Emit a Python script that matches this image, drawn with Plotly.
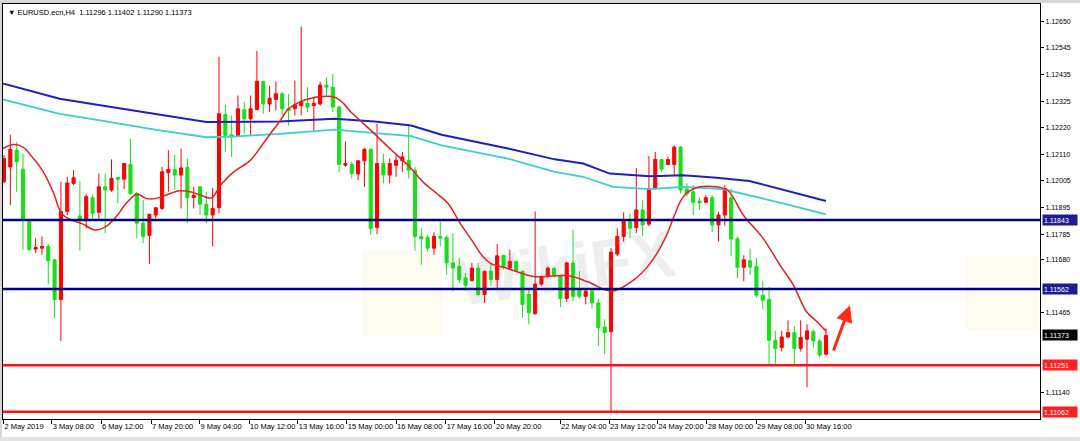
import plotly.graph_objects as go

# EURUSD H4 candles (bar 0 = 2 May 00:00)
bar_open = [1.11999, 1.12059, 1.12127, 1.12050, 1.11836, 1.11724, 1.11728, 1.11735, 1.11681, 1.11519,
            1.11877, 1.11992, 1.11859, 1.11847, 1.11934, 1.11874, 1.11978, 1.11965, 1.12016, 1.12009,
            1.12070, 1.11951, 1.11830, 1.11780, 1.11863, 1.11890, 1.12036, 1.12049, 1.12026, 1.12057,
            1.11934, 1.11978, 1.11907, 1.11863, 1.11893, 1.12273, 1.12190, 1.12185, 1.12292, 1.12255,
            1.12293, 1.12407, 1.12316, 1.12334, 1.12357, 1.12296, 1.12296, 1.12309, 1.12319, 1.12309,
            1.12316, 1.12393, 1.12384, 1.12303, 1.12066, 1.12070, 1.12030, 1.12084, 1.12131, 1.11812,
            1.12073, 1.12026, 1.12066, 1.12084, 1.12086, 1.12046, 1.11776, 1.11772, 1.11728, 1.11776,
            1.11772, 1.11668, 1.11654, 1.11607, 1.11596, 1.11647, 1.11539, 1.11634, 1.11600, 1.11699,
            1.11647, 1.11674, 1.11634, 1.11539, 1.11461, 1.11582, 1.11613, 1.11645, 1.11613, 1.11523,
            1.11668, 1.11559, 1.11532, 1.11553, 1.11505, 1.11407, 1.11388, 1.11704, 1.11776, 1.11836,
            1.11812, 1.11884, 1.11826, 1.11971, 1.12089, 1.12069, 1.12069, 1.12140, 1.11969, 1.11958,
            1.11920, 1.11915, 1.11934, 1.11823, 1.11863, 1.11934, 1.11766, 1.11650, 1.11677, 1.11654,
            1.11536, 1.11519, 1.11353, 1.11323, 1.11366, 1.11384, 1.11320, 1.11357, 1.11388, 1.11350,
            1.11296]
bar_high = [1.12107, 1.12190, 1.12161, 1.12113, 1.11843, 1.11769, 1.11776, 1.11745, 1.11684, 1.11999,
            1.12019, 1.12046, 1.12001, 1.11947, 1.11947, 1.12032, 1.12032, 1.12090, 1.12019, 1.12076,
            1.12174, 1.11958, 1.11924, 1.11869, 1.11896, 1.12059, 1.12127, 1.12109, 1.12134, 1.12093,
            1.11978, 1.11981, 1.11958, 1.11974, 1.12508, 1.12312, 1.12269, 1.12350, 1.12325, 1.12350,
            1.12532, 1.12411, 1.12390, 1.12407, 1.12366, 1.12357, 1.12411, 1.12631, 1.12384, 1.12343,
            1.12407, 1.12424, 1.12438, 1.12309, 1.12163, 1.12080, 1.12086, 1.12136, 1.12134, 1.12235,
            1.12113, 1.12093, 1.12107, 1.12120, 1.12231, 1.12059, 1.11809, 1.11782, 1.11793, 1.11836,
            1.11782, 1.11789, 1.11688, 1.11627, 1.11668, 1.11668, 1.11636, 1.11668, 1.11745, 1.11701,
            1.11722, 1.11677, 1.11636, 1.11566, 1.11877, 1.11616, 1.11654, 1.11654, 1.11620, 1.11674,
            1.11803, 1.11634, 1.11559, 1.11559, 1.11519, 1.11438, 1.11728, 1.11809, 1.11874, 1.11870,
            1.12055, 1.11924, 1.12104, 1.12120, 1.12093, 1.12100, 1.12147, 1.12143, 1.11992, 1.11985,
            1.11934, 1.11944, 1.11944, 1.11877, 1.11985, 1.11971, 1.11776, 1.11699, 1.11726, 1.11688,
            1.11593, 1.11569, 1.11391, 1.11391, 1.11434, 1.11411, 1.11434, 1.11418, 1.11397, 1.11357,
            1.11402]
bar_low = [1.11992, 1.11904, 1.11958, 1.11722, 1.11718, 1.11708, 1.11701, 1.11582, 1.11442, 1.11350,
           1.11863, 1.11985, 1.11718, 1.11809, 1.11843, 1.11843, 1.11789, 1.11958, 1.11911, 1.11969,
           1.11944, 1.11769, 1.11749, 1.11663, 1.11850, 1.11884, 1.11958, 1.11965, 1.11890, 1.11830,
           1.11890, 1.11863, 1.11830, 1.11735, 1.11870, 1.12120, 1.12100, 1.12181, 1.12194, 1.12188,
           1.12290, 1.12276, 1.12282, 1.12289, 1.12269, 1.12228, 1.12269, 1.12269, 1.12282, 1.12201,
           1.12309, 1.12350, 1.12282, 1.12039, 1.12059, 1.12012, 1.12005, 1.11978, 1.11782, 1.11785,
           1.11992, 1.11992, 1.12019, 1.12039, 1.12012, 1.11718, 1.11661, 1.11715, 1.11701, 1.11735,
           1.11620, 1.11553, 1.11586, 1.11553, 1.11593, 1.11532, 1.11505, 1.11573, 1.11566, 1.11641,
           1.11641, 1.11631, 1.11445, 1.11418, 1.11458, 1.11573, 1.11607, 1.11607, 1.11488, 1.11509,
           1.11512, 1.11523, 1.11499, 1.11482, 1.11330, 1.11296, 1.11066, 1.11695, 1.11755, 1.11769,
           1.11789, 1.11776, 1.11816, 1.11965, 1.12039, 1.12066, 1.12026, 1.11951, 1.11938, 1.11863,
           1.11884, 1.11911, 1.11793, 1.11755, 1.11820, 1.11695, 1.11607, 1.11593, 1.11620, 1.11528,
           1.11478, 1.11253, 1.11258, 1.11307, 1.11361, 1.11255, 1.11307, 1.11161, 1.11323, 1.11282,
           1.11290]
bar_close = [1.12093, 1.12130, 1.12080, 1.11847, 1.11722, 1.11731, 1.11735, 1.11677, 1.11519, 1.11877,
             1.11994, 1.12015, 1.11847, 1.11938, 1.11870, 1.11978, 1.11965, 1.12012, 1.12009, 1.12073,
             1.11951, 1.11830, 1.11776, 1.11866, 1.11893, 1.12039, 1.12049, 1.12026, 1.12055, 1.11934,
             1.11944, 1.11907, 1.11863, 1.11890, 1.12276, 1.12188, 1.12181, 1.12296, 1.12255, 1.12296,
             1.12408, 1.12316, 1.12339, 1.12357, 1.12296, 1.12289, 1.12312, 1.12325, 1.12303, 1.12319,
             1.12393, 1.12384, 1.12303, 1.12069, 1.12073, 1.12032, 1.12084, 1.12131, 1.11809, 1.12073,
             1.12026, 1.12073, 1.12086, 1.12100, 1.12046, 1.11776, 1.11766, 1.11728, 1.11776, 1.11769,
             1.11668, 1.11647, 1.11600, 1.11577, 1.11647, 1.11539, 1.11634, 1.11600, 1.11697, 1.11654,
             1.11674, 1.11634, 1.11499, 1.11465, 1.11582, 1.11613, 1.11647, 1.11618, 1.11523, 1.11668,
             1.11532, 1.11532, 1.11553, 1.11505, 1.11404, 1.11384, 1.11712, 1.11776, 1.11839, 1.11809,
             1.11884, 1.11823, 1.11971, 1.12090, 1.12050, 1.12089, 1.12140, 1.11965, 1.11951, 1.11915,
             1.11913, 1.11934, 1.11823, 1.11863, 1.11971, 1.11765, 1.11650, 1.11681, 1.11651, 1.11536,
             1.11516, 1.11353, 1.11320, 1.11366, 1.11384, 1.11320, 1.11364, 1.11391, 1.11350, 1.11293,
             1.11373]
bar_index = list(range(len(bar_open)))

# moving averages, sampled along the drawn lines (bar position, price)
ma_fast_x = [-0.2, 1.5, 3.0, 4.6, 6.2, 7.8, 9.1, 10.4, 12.5, 14.4, 16.2, 17.8, 19.4, 21.0, 22.6, 24.1,
             25.7, 27.8, 29.6, 31.0, 32.8, 34.4, 36.3, 38.9, 40.4, 42.0, 43.6, 44.9, 46.5, 48.1, 50.2,
             52.3, 53.6, 54.9, 56.5, 58.6, 61.3, 63.9, 66.5, 68.5, 70.2, 72.3, 74.0, 75.5, 77.0, 79.0,
             82.7, 84.0, 89.5, 92.4, 96.1, 99.4, 102.1, 104.6, 106.0, 107.5, 109.6, 112.7, 114.5, 117.0,
             120.0, 122.7, 124.8, 126.9, 128.5, 130.0]
ma_fast_y = [1.12134, 1.12150, 1.12140, 1.12095, 1.12040, 1.11955, 1.11870, 1.11846, 1.11826, 1.11802,
             1.11818, 1.11858, 1.11913, 1.11948, 1.11930, 1.11931, 1.11945, 1.11962, 1.11957, 1.11945,
             1.11933, 1.11990, 1.12038, 1.12085, 1.12133, 1.12190, 1.12244, 1.12293, 1.12320, 1.12336,
             1.12346, 1.12343, 1.12320, 1.12282, 1.12244, 1.12194, 1.12127, 1.12066, 1.11992, 1.11950,
             1.11911, 1.11823, 1.11760, 1.11701, 1.11665, 1.11650, 1.11619, 1.11612, 1.11615, 1.11590,
             1.11553, 1.11595, 1.11663, 1.11770, 1.11860, 1.11940, 1.11975, 1.11978, 1.11963, 1.11860,
             1.11770, 1.11660, 1.11580, 1.11470, 1.11430, 1.11390]
ma_slow_x = [-0.2, 8.8, 15.2, 24.1, 32.0, 43.6, 52.3, 58.6, 64.4, 69.2, 79.7, 87.1, 91.6, 95.8,
             102.1, 107.4, 112.7, 117.9, 123.2, 130.0]
ma_slow_y = [1.12399, 1.12337, 1.12310, 1.12273, 1.12242, 1.12244, 1.12255, 1.12244, 1.12228, 1.12190,
             1.12134, 1.12090, 1.12073, 1.12032, 1.12021, 1.12025, 1.12015, 1.12002, 1.11965, 1.11920]
ma_mid_x = [-0.2, 8.8, 15.2, 24.1, 32.0, 36.2, 43.6, 52.3, 64.4, 69.2, 79.7, 87.1, 91.6, 96.3,
            102.1, 107.4, 113.7, 117.9, 123.2, 130.0]
ma_mid_y = [1.12334, 1.12275, 1.12249, 1.12210, 1.12180, 1.12183, 1.12194, 1.12211, 1.12185, 1.12147,
            1.12093, 1.12039, 1.12019, 1.11978, 1.11969, 1.11978, 1.11969, 1.11944, 1.11911, 1.11866]

# horizontal support / resistance levels
level_prices = [1.11843, 1.11562, 1.11251, 1.11062]
level_colors = ['#000080', '#000080', '#ff1010', '#ff1010']
level_box_colors = ['#1c1c96', '#1c1c96', '#ff2020', '#ff2020']
last_price = 1.11373

price_ticks = [1.12650, 1.12545, 1.12435, 1.12325, 1.12220, 1.12110, 1.12005, 1.11895, 1.11785,
               1.11680, 1.11465, 1.11140, 1.11030]
time_labels = ['2 May 2019', '3 May 08:00', '6 May 12:00', '7 May 20:00', '9 May 04:00',
               '10 May 12:00', '13 May 16:00', '15 May 00:00', '16 May 08:00', '17 May 16:00',
               '20 May 20:00', '22 May 04:00', '23 May 12:00', '24 May 20:00', '28 May 00:00',
               '29 May 08:00', '30 May 16:00']
time_label_pos = [-0.1, 7.55, 15.35, 23.25, 30.9, 38.75, 46.45, 54.2, 62.0, 69.85, 77.65,
                  87.95, 95.7, 103.3, 111.15, 118.95, 126.7]

title_text = 'EURUSD.ecn,H4  1.11296 1.11402 1.11290 1.11373'

FONT = 'Liberation Sans'
W, H = 1080, 441
ML, MR, MT, MB = 3, 40, 4, 22
PW, PH = W - ML - MR, H - MT - MB


def px_x(px):
    return (px - ML) / PW


def px_y(py):
    return (H - MB - py) / PH


fig = go.Figure()

fig.add_trace(go.Candlestick(
    x=bar_index, open=bar_open, high=bar_high, low=bar_low, close=bar_close,
    increasing=dict(line=dict(color='#ff0000', width=1), fillcolor='#ff0000'),
    decreasing=dict(line=dict(color='#18e018', width=1), fillcolor='#18e018'),
    whiskerwidth=0, hoverinfo='skip', name='EURUSD'))

fig.add_trace(go.Scatter(x=ma_slow_x, y=ma_slow_y, mode='lines',
                         line=dict(color='#1f1fc8', width=2), hoverinfo='skip'))
fig.add_trace(go.Scatter(x=ma_mid_x, y=ma_mid_y, mode='lines',
                         line=dict(color='#3ccfcf', width=1.8), hoverinfo='skip'))
fig.add_trace(go.Scatter(x=ma_fast_x, y=ma_fast_y, mode='lines', line_shape='spline',
                         line=dict(color='#e8201c', width=1.5), hoverinfo='skip'))

shapes = []
# faint watermark logos
shapes.append(dict(type='rect', xref='paper', yref='paper', layer='below',
                   x0=px_x(362), x1=px_x(442), y0=px_y(335), y1=px_y(250),
                   fillcolor='rgba(250,215,120,0.10)', line_width=0))
shapes.append(dict(type='rect', xref='paper', yref='paper', layer='below',
                   x0=px_x(966), x1=px_x(1038), y0=px_y(330), y1=px_y(255),
                   fillcolor='rgba(250,215,120,0.10)', line_width=0))
for price, col in zip(level_prices, level_colors):
    shapes.append(dict(type='line', xref='paper', yref='y', x0=0, x1=1, y0=price, y1=price,
                       line=dict(color=col, width=2.5)))
# window frame bands
shapes.append(dict(type='rect', xref='paper', yref='paper', x0=px_x(0), x1=px_x(W), y0=px_y(3),
                   y1=px_y(0), fillcolor='#d6d6d6', line_width=0))
shapes.append(dict(type='rect', xref='paper', yref='paper', x0=px_x(0), x1=px_x(2), y0=px_y(H),
                   y1=px_y(0), fillcolor='#d6d6d6', line_width=0))
shapes.append(dict(type='rect', xref='paper', yref='paper', x0=px_x(0), x1=px_x(W), y0=px_y(H),
                   y1=px_y(437), fillcolor='#e4e4e4', line_width=0))

annotations = []
annotations.append(dict(xref='paper', yref='paper', x=px_x(565), y=px_y(268), showarrow=False,
                        text='<b>WikiFX</b>', textangle=-8,
                        font=dict(family=FONT, size=66, color='rgba(120,120,150,0.13)')))
annotations.append(dict(xref='paper', yref='paper', x=0, y=1, xanchor='left', yanchor='top',
                        xshift=3, yshift=-2, showarrow=False,
                        text='\u25bc ' + title_text,
                        font=dict(family=FONT, size=7.5, color='black')))
for price, col in zip(level_prices, level_box_colors):
    annotations.append(dict(xref='paper', yref='y', x=1, y=price, xanchor='left', xshift=2,
                            showarrow=False, text=f'{price:.5f}', bgcolor=col, borderpad=1,
                            width=32, height=8, align='left',
                            font=dict(family=FONT, size=7, color='white')))
annotations.append(dict(xref='paper', yref='y', x=1, y=last_price, xanchor='left', xshift=2,
                        showarrow=False, text=f'{last_price:.5f}', bgcolor='black', borderpad=1,
                        width=32, height=8, align='left',
                        font=dict(family=FONT, size=7, color='white')))
# red arrow pointing up
annotations.append(dict(xref='x', yref='y', axref='x', ayref='y', x=133.8, y=1.11495,
                        ax=131.1, ay=1.11305, text='', showarrow=True, arrowhead=2,
                        arrowsize=1.1, arrowwidth=3, arrowcolor='#ff2a10'))

fig.update_layout(
    width=W, height=H, margin=dict(l=ML, r=MR, t=MT, b=MB),
    paper_bgcolor='white', plot_bgcolor='white', showlegend=False,
    shapes=shapes, annotations=annotations,
    xaxis=dict(range=[-0.16, 163.85], rangeslider=dict(visible=False), fixedrange=True,
               tickvals=time_label_pos, ticktext=time_labels, ticks='outside', ticklen=4,
               tickcolor='black', ticklabelposition='outside right', tickangle=0,
               showline=True, linecolor='black', linewidth=1, mirror=True,
               showgrid=False, zeroline=False,
               tickfont=dict(family=FONT, size=7.5, color='black')),
    yaxis=dict(side='right', range=[1.11032, 1.12723], fixedrange=True,
               tickvals=price_ticks, ticktext=[f'{v:.5f}' for v in price_ticks],
               ticks='outside', ticklen=3, tickcolor='black',
               showline=True, linecolor='black', linewidth=1, mirror=True,
               showgrid=False, zeroline=False,
               tickfont=dict(family=FONT, size=7, color='black')),
)

fig.write_html('out.html', config={'displayModeBar': False},
               post_script="document.body.style.margin='0';document.body.style.overflow='hidden';")
